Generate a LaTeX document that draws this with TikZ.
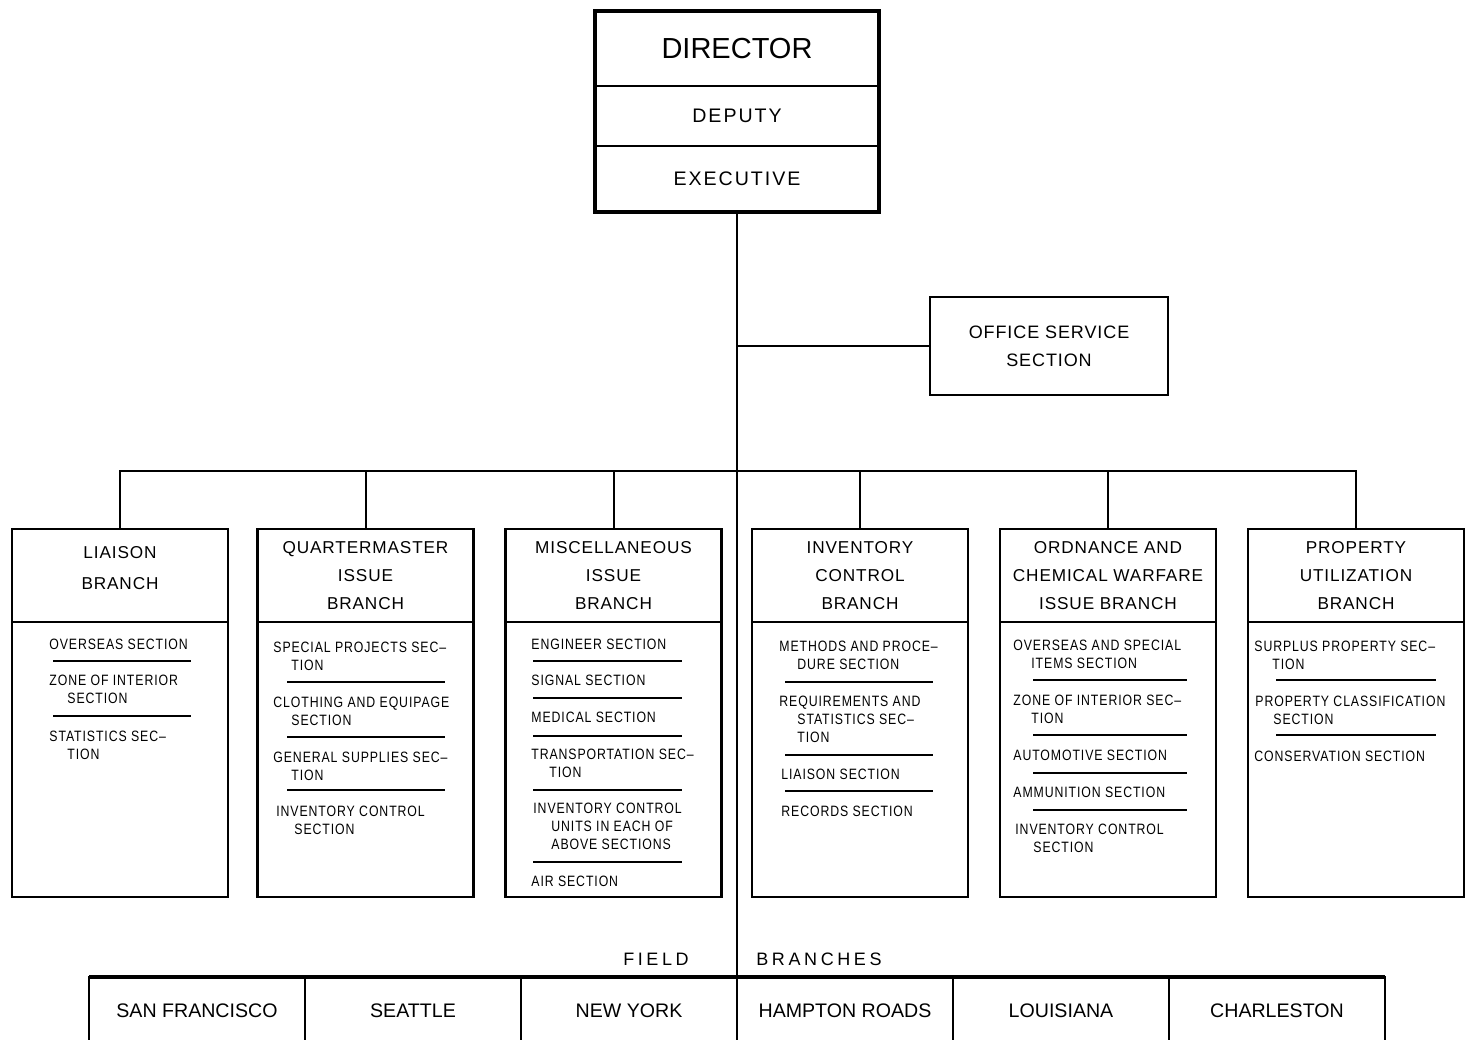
\documentclass[tikz,border=0pt]{standalone}
\usepackage{fontspec}
\setmainfont{Liberation Sans}
\newfontfamily\hdfont[LetterSpace=10]{Liberation Sans}
\newfontfamily\ttlfont[LetterSpace=5]{Liberation Sans}
\newfontfamily\secfont[FakeStretch=0.82,LetterSpace=6]{Liberation Sans}
\newfontfamily\fldfont[LetterSpace=20]{Liberation Sans}
\usetikzlibrary{positioning}

\newcommand{\hang}{\hspace*{9pt}}

\tikzset{
  chief/.style={draw, line width=1pt, minimum width=142pt, outer sep=0pt},
  head/.style={draw, line width=1.2pt, minimum width=108pt, minimum height=46.5pt,
    outer sep=0pt, align=center, font=\ttlfont\fontsize{8.6}{14}\selectfont},
  body/.style={draw, line width=1.2pt, minimum width=108pt, minimum height=137.5pt,
    outer sep=0pt},
  sec/.style={anchor=north west, inner sep=0pt, align=left,
    font=\secfont\fontsize{7.5}{9}\selectfont},
  rule/.style={line width=0.9pt},
  link/.style={line width=1pt},
  cell/.style={draw, line width=1pt, minimum width=108pt, minimum height=34pt,
    outer sep=0pt, font=\fontsize{9.8}{12}\selectfont}
}

\begin{document}
\begin{tikzpicture}[x=0.5pt, y=-0.5pt]
    \useasboundingbox (0,0) rectangle (1465,1039);

    % top of the office
    \node[chief, minimum height=37.5pt, font=\fontsize{14.5}{16}\selectfont] (dir) at (737,48.5) {DIRECTOR};
    \node[chief, minimum height=30pt, below=0pt of dir, font=\hdfont\fontsize{9.8}{12}\selectfont] (dep) {DEPUTY};
    \node[chief, minimum height=33pt, below=0pt of dep, font=\hdfont\fontsize{9.8}{12}\selectfont] (exe) {EXECUTIVE};
    \draw[line width=1.8pt] (dir.north west) rectangle (exe.south east);

    \node[draw, line width=1.2pt, minimum width=119pt, minimum height=49pt, align=center,
        font=\ttlfont\fontsize{9}{14}\selectfont] (off) at (1049,346) {OFFICE SERVICE\\SECTION};

    % branches
    \node[head, font=\ttlfont\fontsize{8.6}{15.5}\selectfont] (lia) at (120,575.5) {LIAISON\\BRANCH\\[-8pt]};
    \node[head] (qm) at (365.5,575.5) {QUARTERMASTER\\ISSUE\\BRANCH};
    \node[head] (mis) at (613.5,575.5) {MISCELLANEOUS\\ISSUE\\BRANCH};
    \node[head] (inv) at (860,575.5) {INVENTORY\\CONTROL\\BRANCH};
    \node[head] (ord) at (1108,575.5) {ORDNANCE AND\\CHEMICAL WARFARE\\ISSUE BRANCH};
    \node[head] (prp) at (1356,575.5) {PROPERTY\\UTILIZATION\\BRANCH};

    \node[body, below=0pt of lia] (liab) {};
    \node[body, below=0pt of qm] (qmb) {};
    \node[body, below=0pt of mis] (misb) {};
    \node[body, below=0pt of inv] (invb) {};
    \node[body, below=0pt of ord] (ordb) {};
    \node[body, below=0pt of prp] (prpb) {};

    % sections
    \node[sec] (lia1) at (49,639) {OVERSEAS SECTION};
    \node[sec] (lia2) at (49,675) {ZONE OF INTERIOR\\\hang SECTION};
    \node[sec] (lia3) at (49,731) {STATISTICS SEC–\\\hang TION};
    \foreach \y in {661,716} \draw[rule] (53,\y) -- (191,\y);

    \node[sec] (qm1) at (273,642) {SPECIAL PROJECTS SEC–\\\hang TION};
    \node[sec] (qm2) at (273,697) {CLOTHING AND EQUIPAGE\\\hang SECTION};
    \node[sec] (qm3) at (273,752) {GENERAL SUPPLIES SEC–\\\hang TION};
    \node[sec] (qm4) at (276,806) {INVENTORY CONTROL\\\hang SECTION};
    \foreach \y in {682,737,790} \draw[rule] (287,\y) -- (445,\y);

    \node[sec] (mis1) at (531,639) {ENGINEER SECTION};
    \node[sec] (mis2) at (531,675) {SIGNAL SECTION};
    \node[sec] (mis3) at (531,712) {MEDICAL SECTION};
    \node[sec] (mis4) at (531,749) {TRANSPORTATION SEC–\\\hang TION};
    \node[sec] (mis5) at (533,803) {INVENTORY CONTROL\\\hang UNITS IN EACH OF\\\hang ABOVE SECTIONS};
    \node[sec] (mis6) at (531,876) {AIR SECTION};
    \foreach \y in {661,698,736,790,862} \draw[rule] (533,\y) -- (682,\y);

    \node[sec] (inv1) at (779,641) {METHODS AND PROCE–\\\hang DURE SECTION};
    \node[sec] (inv2) at (779,696) {REQUIREMENTS AND\\\hang STATISTICS SEC–\\\hang TION};
    \node[sec] (inv3) at (781,769) {LIAISON SECTION};
    \node[sec] (inv4) at (781,806) {RECORDS SECTION};
    \foreach \y in {682,755,791} \draw[rule] (785,\y) -- (933,\y);

    \node[sec] (ord1) at (1013,640) {OVERSEAS AND SPECIAL\\\hang ITEMS SECTION};
    \node[sec] (ord2) at (1013,695) {ZONE OF INTERIOR SEC–\\\hang TION};
    \node[sec] (ord3) at (1013,750) {AUTOMOTIVE SECTION};
    \node[sec] (ord4) at (1013,787) {AMMUNITION SECTION};
    \node[sec] (ord5) at (1015,824) {INVENTORY CONTROL\\\hang SECTION};
    \foreach \y in {680,735,773,810} \draw[rule] (1033,\y) -- (1187,\y);

    \node[sec] (prp1) at (1254,641) {SURPLUS PROPERTY SEC–\\\hang TION};
    \node[sec] (prp2) at (1255,696) {PROPERTY CLASSIFICATION\\\hang SECTION};
    \node[sec] (prp3) at (1254,751) {CONSERVATION SECTION};
    \foreach \y in {680,735} \draw[rule] (1276,\y) -- (1436,\y);

    % field branches
    \node[font=\fldfont\fontsize{9}{11}\selectfont] (fld) at (656,959) {FIELD};
    \node[font=\fldfont\fontsize{9}{11}\selectfont] (brn) at (819,959) {BRANCHES};
    \node[cell] (sf) at (197,1011) {SAN FRANCISCO};
    \node[cell, right=0pt of sf] (sea) {SEATTLE};
    \node[cell, right=0pt of sea] (ny) {NEW YORK};
    \node[cell, right=0pt of ny] (hr) {HAMPTON ROADS};
    \node[cell, right=0pt of hr] (lou) {LOUISIANA};
    \node[cell, right=0pt of lou] (cha) {CHARLESTON};
    \draw[line width=2pt] (sf.north west) -- (cha.north east);

    % connectors
    \coordinate (bus) at (737,471);
    \draw[link] (exe.south) -- (exe.south |- ny.north);
    \draw[link] (off.west) -- (off.west -| exe.south);
    \draw[link] (lia.north) -- (lia.north |- bus) -| (prp.north);
    \draw[link] (qm.north) -- (qm.north |- bus);
    \draw[link] (mis.north) -- (mis.north |- bus);
    \draw[link] (inv.north) -- (inv.north |- bus);
    \draw[link] (ord.north) -- (ord.north |- bus);
\end{tikzpicture}
\end{document}
